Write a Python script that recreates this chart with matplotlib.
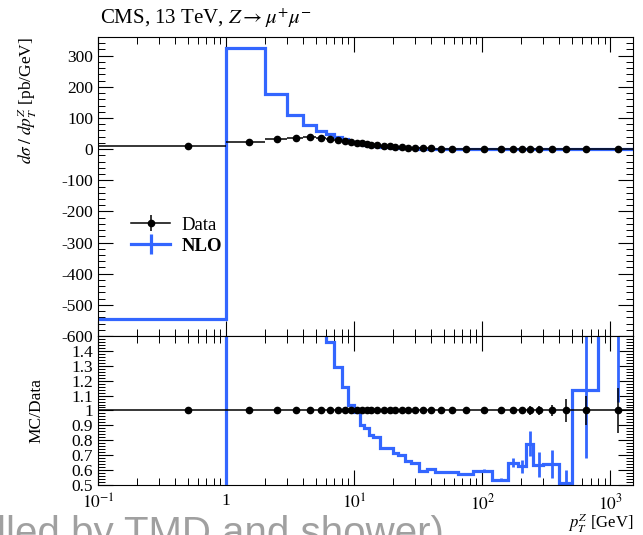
import numpy as np
import matplotlib
matplotlib.use("Agg")
import matplotlib.pyplot as plt
from matplotlib.lines import Line2D
from matplotlib.ticker import FixedLocator, MultipleLocator, LogLocator, NullFormatter

plt.rcParams["font.family"] = ["Liberation Serif", "DejaVu Serif"]
plt.rcParams["mathtext.fontset"] = "stix"
plt.rcParams["axes.unicode_minus"] = False

# pT bin edges [GeV]
edges = [0, 1, 2, 3, 4, 5, 6, 7, 8, 9, 10, 11, 12, 13, 14, 16, 18, 20, 22, 25, 28,
         32, 37, 43, 52, 65, 85, 120, 160, 190, 220, 250, 300, 400, 500, 800, 1500]

# measured d sigma / d pT [pb/GeV]
data = [10.0, 23.5, 33.0, 36.5, 37.5, 36.5, 34.0, 30.5, 26.8, 23.5, 20.8, 18.4,
        16.3, 14.5, 12.4, 10.2, 8.6, 7.3, 6.0, 4.8, 3.8, 2.9, 2.2, 1.6, 1.0, 0.55,
        0.25, 0.1, 0.05, 0.03, 0.018, 0.011, 0.005, 0.002, 0.0006, 0.00005]
data_relerr = [0.01, 0.01, 0.01, 0.01, 0.01, 0.01, 0.01, 0.01, 0.01, 0.01, 0.01,
               0.01, 0.01, 0.01, 0.01, 0.01, 0.01, 0.01, 0.01, 0.01, 0.01, 0.01,
               0.01, 0.01, 0.01, 0.01, 0.012, 0.015, 0.02, 0.025, 0.03, 0.03,
               0.04, 0.075, 0.1, 0.15]

# NLO prediction [pb/GeV]
nlo = [-545, 326, 176, 110, 79, 59, 49.6, 39.3, 31.0, 24.4, 20.6, 16.65, 14.34,
       12.1, 10.17, 7.65, 6.41, 5.22, 4.2, 3.17, 2.47, 1.725, 1.33, 0.936, 0.59,
       0.314, 0.149, 0.0535, 0.0325, 0.01875, 0.014, 0.007, 0.0032, 0.00102,
       0.000684, 0.0001]
nlo_relerr = [0.002, 0.002, 0.003, 0.003, 0.003, 0.003, 0.004, 0.004, 0.004,
              0.005, 0.005, 0.005, 0.005, 0.005, 0.005, 0.006, 0.006, 0.006,
              0.007, 0.007, 0.008, 0.008, 0.009, 0.01, 0.01, 0.012, 0.015, 0.02,
              0.045, 0.07, 0.11, 0.13, 0.15, 0.18, 0.4, 0.47]

blue = "#3366FF"

edges = np.array(edges, dtype=float)
plot_edges = edges.copy()
plot_edges[0] = 0.03  # left of the visible range on the log axis
data = np.array(data)
nlo = np.array(nlo)
centers = 0.5 * (edges[:-1] + edges[1:])
xlo = centers - plot_edges[:-1]
xhi = plot_edges[1:] - centers
ratio = nlo / data

fig = plt.figure(figsize=(6.43, 5.35), dpi=100)
ax = fig.add_axes([0.1524, 0.372, 0.832, 0.5588])
ax2 = fig.add_axes([0.1524, 0.0935, 0.832, 0.2785], sharex=ax)

# main panel
ax.stairs(nlo, plot_edges, baseline=None, color=blue, lw=2.3, zorder=2)
ax.errorbar(centers, data, xerr=[xlo, xhi], yerr=data * np.array(data_relerr),
            fmt="o", color="black", ms=4.5, lw=1.1, capsize=0, zorder=3)

ax.set_xscale("log")
ax.set_xlim(0.1, 1500)
ax.set_ylim(-600, 360)
ax.yaxis.set_major_locator(FixedLocator(np.arange(-600, 301, 100)))
ax.yaxis.set_minor_locator(MultipleLocator(20))
ax.set_ylabel(r"$d\sigma\;/\;dp_T^Z$ [pb/GeV]", fontsize=12.5, loc="top")

h_data = (Line2D([], [], color="black", lw=1.1, marker="o", ms=4.5),
          Line2D([], [], color="black", lw=0, marker="|", ms=11, mew=1.1))
h_nlo = Line2D([], [], color=blue, lw=2.3, marker="|", ms=14, mew=2.3)
leg = ax.legend([h_data, h_nlo], ["Data", "NLO"], loc="center left",
                bbox_to_anchor=(0.03, 0.335), frameon=False, fontsize=13.5,
                handlelength=2.1, handletextpad=0.6, labelspacing=0.2)
leg.get_texts()[1].set_fontweight("bold")

# ratio panel
ax2.stairs(ratio, plot_edges, baseline=None, color=blue, lw=2.3, zorder=2)
ax2.errorbar(centers, ratio, yerr=np.abs(ratio) * np.array(nlo_relerr), fmt="none",
             ecolor=blue, lw=2.0, zorder=2)
ax2.errorbar(centers, np.ones_like(centers), xerr=[xlo, xhi],
             yerr=np.array(data_relerr), fmt="o", color="black", ms=4.5,
             lw=1.1, capsize=0, zorder=3)
ax2.set_ylim(0.5, 1.5)
rticks = [0.5, 0.6, 0.7, 0.8, 0.9, 1.0, 1.1, 1.2, 1.3, 1.4]
ax2.yaxis.set_major_locator(FixedLocator(rticks))
ax2.set_yticklabels(["0.5", "0.6", "0.7", "0.8", "0.9", "1", "1.1", "1.2", "1.3", "1.4"])
ax2.yaxis.set_minor_locator(MultipleLocator(0.02))
ax2.set_ylabel("MC/Data", fontsize=12.5)
ax2.yaxis.set_label_coords(-0.1, 0.5)

ax2.xaxis.set_major_locator(FixedLocator([0.1, 1, 10, 100, 1000]))
ax2.xaxis.set_minor_locator(LogLocator(base=10, subs=np.arange(2, 10)))
ax2.xaxis.set_minor_formatter(NullFormatter())
ax2.set_xticklabels([r"$10^{-1}$", "1", r"$10^{1}$", r"$10^{2}$", r"$10^{3}$"])
ax2.set_xlabel(r"$p_T^Z$ [GeV]", fontsize=12)
ax2.xaxis.label.set_ha("right")
ax2.xaxis.label.set_va("center")
ax2.xaxis.set_label_coords(1.0, -0.258)

for a in (ax, ax2):
    a.tick_params(which="both", direction="in", top=True, right=True, labelsize=12.5)
    a.tick_params(which="major", length=11, width=0.8)
    a.tick_params(which="minor", length=5, width=0.7)
    for s in a.spines.values():
        s.set_linewidth(0.8)
ax.tick_params(labelbottom=False)
ax2.tick_params(axis="x", which="major", pad=6)
ax.yaxis.set_label_coords(-0.11, 1.0)

fig.text(0.1555, 0.966, r"CMS, 13 TeV, $Z \rightarrow \mu^{+}\mu^{-}$", fontsize=15,
         ha="left", va="center")
fig.text(-0.004, 0.037, "lled by TMD and shower)", fontsize=29, color="#a0a0a0",
         ha="left", va="top", family="Liberation Sans")

fig.savefig("out.png", dpi=100)
